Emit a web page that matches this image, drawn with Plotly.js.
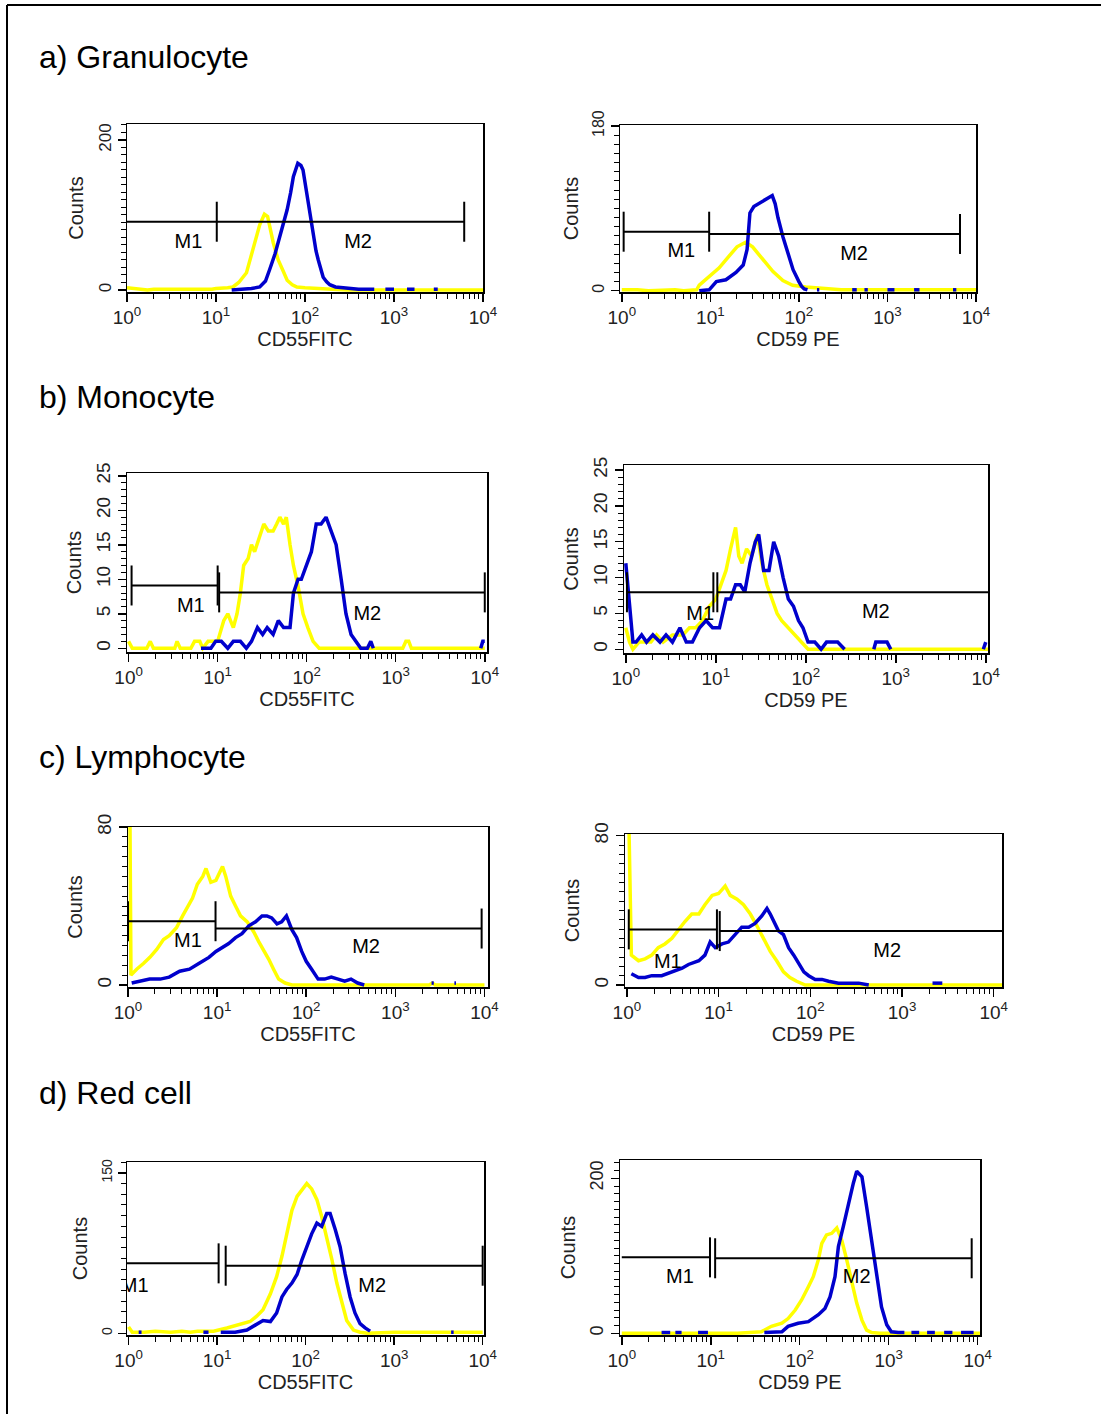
<!DOCTYPE html>
<html><head><meta charset="utf-8">
<script src="https://cdn.plot.ly/plotly-3.0.1.min.js"></script>
<style>html,body{margin:0;padding:0;background:#fff;} #chart{width:1101px;height:1414px;}</style>
</head><body><div id="chart"></div>
<script>
// ---------------- DATA ----------------
const sectionTitles = ['a) Granulocyte', 'b) Monocyte', 'c) Lymphocyte', 'd) Red cell'];
const xTitles = ['CD55FITC', 'CD59 PE'];
const yTitle = 'Counts';
const decadeTicks = [1, 10, 100, 1000, 10000];
const decadeLabels = ['10<sup>0</sup>', '10<sup>1</sup>', '10<sup>2</sup>', '10<sup>3</sup>', '10<sup>4</sup>'];
const gateLabels = ['M1', 'M2'];

// a) Granulocyte CD55
const gran55_yellow_x = [1,1.3,1.7,2,3,4,5,6,7,8,9,10,12,13.5,15.5,18,22,26,31,35,38,44,50,57,63,72,81,100,130,160,200,300,10000];
const gran55_yellow_y = [3,1,0,1,1,0,1,1,0,1,1,2,2,3,4,10,23,53,87,101,98,63,40,25,13,7,4,3,2,1,1,0,0];
const gran55_blue_x = [15,20,25,31,36,40,46,52,58,63,69,74,83,90,95,101,108,116,124,133,141,150,160,175,190,220,270,330,400,600,700,800,1000,1200,1400,1700,2000,2800,3100];
const gran55_blue_y = [0,1,2,4,12,27,48,71,90,107,130,151,169,166,160,140,116,90,71,52,40,28,17,11,7,4,3,2,1,1,null,1,1,null,1,1,null,1,1];
const gran55_yTicks = [0, 200];
const gran55_gateStart = [1, 10.2], gran55_gateEnd = [10.2, 6150], gran55_gateLevel = [91, 91];
const gran55_labelX = [4.9, 395], gran55_labelY = [62, 62];

// a) Granulocyte CD59
const gran59_yellow_x = [1,1.5,2,3,4,5,6,7,7.5,9.7,12.6,16,20,25,30,35,40,51,66,85,120,200,300,10000];
const gran59_yellow_y = [1,1,0,1,1,0,1,1,6,15,25,37,48,53,48,40,33,21,11,6,4,2,1,1];
const gran59_blue_x = [7.5,9.7,11.7,15,19.5,23.5,26,28,31,36,40,46,50,54,58,66,76,86,100,107,115,125,150,160,170,200,400,450,500,550,600,700,1000,1200,1500,2000,2300,3000,5500,6000];
const gran59_blue_y = [0,1,10,12,20,28,45,85,92,96,99,102,104,95,80,59,41,23,10,5,2,1,null,1,1,null,1,1,null,1,1,null,1,1,null,1,1,null,1,1];
const gran59_yTicks = [0, 180];
const gran59_gateStart = [1.05, 9.7], gran59_gateEnd = [9.7, 6600], gran59_gateLevel = [64.5, 62];
const gran59_labelX = [4.7, 420], gran59_labelY = [42.6, 39];

// b) Monocyte CD55
const mono55_yellow_x = [1,1.1,1.6,1.75,1.9,3.3,3.5,3.8,5,5.5,6.3,6.8,7.8,9,10,11.7,13,15,16.5,18,19.6,22,24,26,29,33,37,42,46,50,55,59,65,71,80,91,103,118,138,150,1200,1300,1400,1500,10000];
const mono55_yellow_y = [1,0,0,1,0,0,1,0,0,1,1,0,1,1,1,4,5,3,5,8,12,13,15,14,16,18,17,17,18,19,18,19,15,12,9,5,3,1,0,0,0,1,1,0,0];
const mono55_blue_x = [6.5,8.4,9.5,11,13,15,18,21,24,28,32,36,42,48,55,65,71,80,87,99,113,128,145,165,188,214,244,276,315,355,405,480,525,560,600,9000,9500,10000];
const mono55_blue_y = [0,0,1,1,0,1,1,0,1,3,2,3,2,4,3,3,8,10,10,12,14,18,18,19,17,15,10,5,2,1,0,0,1,0,null,0,1,1];
const mono55_yTicks = [0, 5, 10, 15, 20, 25];
const mono55_gateStart = [1.08, 10.4], mono55_gateEnd = [10, 10000], mono55_gateLevel = [9.1, 8.1];
const mono55_labelX = [5, 480], mono55_labelY = [6, 4.8];

// b) Monocyte CD59
const mono59_yellow_x = [1,1.1,1.2,1.4,1.6,1.9,2.2,2.6,3.3,4.3,5.1,6,7.1,8.5,10,11.3,13,14.6,16.6,18,19.6,22,25,29,32.5,37,42,48,54,64,76,89,106,10600];
const mono59_yellow_y = [3,1,0,1,1,1,2,1,2,2,3,3,4,6,7,9,11,14,17,13,12,14,13,16,12,9,7,5,4,3,2,1,0,0];
const mono59_blue_x = [1,1.1,1.2,1.3,1.5,1.7,2,2.4,2.8,3.3,4,4.7,5.5,6.6,7.8,9.2,11,13,14.6,16.6,18.7,21,24,27.5,30,34,39,44,50,56,64,73,83,93,106,126,148,170,190,226,270,300,570,600,800,880,900,9400,10000];
const mono59_blue_y = [12,6,1,1,2,1,2,1,2,1,3,1,1,3,4,3,3,7,7,9,9,8,12,15,16,11,11,15,13,10,7,6,4,3,1,1,0,1,1,1,0,null,0,1,1,0,null,0,1];
const mono59_yTicks = [0, 5, 10, 15, 20, 25];
const mono59_gateStart = [1.03, 10.4], mono59_gateEnd = [9.4, 12000], mono59_gateLevel = [7.95, 7.95];
const mono59_labelX = [6.7, 600], mono59_labelY = [4.8, 5];

// c) Lymphocyte CD55
const lymph55_yellow_x = [1,1.05,1.08,1.25,1.5,1.76,2.1,2.5,2.9,3.5,4.1,4.7,5.3,6,6.9,7.5,8.5,9.7,11.5,12.5,14.2,16.1,18.3,21.8,25.7,29.3,33,38,43,49,58,69,2400,2600,2800,10000];
const lymph55_yellow_y = [90,90,5,8,11,14,18,23,25,29,35,40,44,51,55,59,52,53,60,55,45,40,35,32,27,22,18,13,8,3,1,0,0,1,0,0];
const lymph55_blue_x = [1.1,1.35,1.75,2.3,2.9,3.8,4.9,6.3,8.1,9.7,11.5,13.5,16.1,19,22.7,27,31.9,36.2,41,47,53,60,69,78,89,100,115,136,161,191,228,270,318,378,448,500,2500,2550,2700,2800,4600,4800];
const lymph55_blue_y = [1,2,3,3,4,7,8,11,14,17,19,21,24,26,30,32,35,35,34,31,32,35,28,24,17,12,8,3,3,4,3,2,3,1,0,null,null,1,1,null,1,1];
const lymph55_yTicks = [0, 80];
const lymph55_gateStart = [1, 9.6], lymph55_gateEnd = [9.6, 9300], lymph55_gateLevel = [32.3, 28.6];
const lymph55_labelX = [4.7, 470], lymph55_labelY = [21.9, 18.5];

// c) Lymphocyte CD59
const lymph59_yellow_x = [1,1.05,1.12,1.34,1.58,1.87,2.2,2.6,3.1,3.7,4.3,5.1,6.1,7.1,8.5,10,11.8,13.4,15.9,18.7,22.2,26,31,36.6,43,51,60,71,88,12300];
const lymph59_yellow_y = [90,90,16,13,14,16,20,22,25,30,34,38,38,43,48,49,53,48,46,43,38,32,25,18,13,7,4,2,0,0];
const lymph59_blue_x = [1.12,1.34,1.58,1.87,2.4,3.1,4,4.7,6.1,7.1,8.1,9.2,10.9,12.8,15.2,17.9,21.3,25,29.6,33.7,36.6,39.8,44.9,51,58,66,74,85,96,113,134,158,203,262,337,434,500,2000,2150,2750,2800];
const lymph59_blue_y = [6,4,4,5,5,7,9,11,13,16,23,20,22,23,27,31,31,33,37,41,38,34,29,27,20,16,12,7,5,3,3,2,1,1,1,0,null,null,1,1,null];
const lymph59_yTicks = [0, 80];
const lymph59_gateStart = [1.05, 10.3], lymph59_gateEnd = [9.6, 12300], lymph59_gateLevel = [29.8, 28.9];
const lymph59_labelX = [2.8, 690], lymph59_labelY = [11.6, 17.9];

// d) Red cell CD55
const red55_yellow_x = [1,1.1,1.5,2,3,4,5,6,7,9.1,12.9,18.2,23.6,28,33,40,47,54,61,70,80,91,103,117,134,152,173,198,225,256,291,347,412,500,1000,2000,3000,5000,10000];
const red55_yellow_y = [6,1,1,2,1,2,1,2,2,2,5,8,11,16,22,37,53,72,93,115,128,134,140,135,125,109,90,69,47,28,12,3,1,0,1,1,1,1,1];
const red55_blue_x = [1.3,1.4,1.5,7,8,8.5,11,16,21.7,28,33,40,47,54,61,70,80,91,103,117,134,152,173,189,216,245,279,318,361,412,470,535,560,4300,4400,4700];
const red55_blue_y = [1,1,null,1,1,null,1,1,3,8,12,11,19,34,41,47,55,69,81,93,103,100,112,112,97,81,56,34,19,9,5,2,null,null,1,1];
const red55_yTicks = [0, 150];
const red55_gateStart = [0.9, 12.5], red55_gateEnd = [10.4, 10000], red55_gateLevel = [65.4, 63.2];
const red55_labelX = [1.17, 565], red55_labelY = [43.6, 43.6];

// d) Red cell CD59
const red59_yellow_x = [1,2,5,10,20,37,48,63,74,89,105,125,142,162,177,200,229,261,297,337,383,437,500,565,645,800,10600];
const red59_yellow_y = [0,0,0,0,0,2,9,13,19,30,43,60,73,95,116,127,129,136,120,95,65,39,17,4,1,0,0];
const red59_blue_x = [2.8,3.5,3.7,4,4.7,5,7.2,9.3,9.5,40,48,63,74,96,125,162,192,219,249,272,309,352,401,437,500,565,645,735,830,950,1070,1280,1500,1600,1800,2200,2400,2700,3300,3500,4200,5200,5500,6500,9000];
const red59_blue_y = [1,1,null,1,1,null,1,1,null,1,1,2,9,13,15,24,32,47,73,112,138,168,194,209,202,163,116,73,34,11,2,1,1,null,1,1,null,1,1,null,1,1,null,1,1];
const red59_yTicks = [0, 200];
const red59_gateStart = [1, 11.2], red59_gateEnd = [9.8, 8560], red59_gateLevel = [98, 96.8];
const red59_labelX = [4.5, 437], red59_labelY = [71, 71];

// ---------------- LAYOUT / STYLE ----------------
const W = 1101, H = 1414;
const FONT = '"Liberation Sans", Arial, Helvetica, sans-serif';
const YELLOW = '#ffff00', BLUE = '#0000cc';

const panels = [
  {yx: gran55_yellow_x, yy: gran55_yellow_y, bx: gran55_blue_x, by: gran55_blue_y, yt: gran55_yTicks,
   gs: gran55_gateStart, ge: gran55_gateEnd, gl: gran55_gateLevel, lx: gran55_labelX, ly: gran55_labelY,
   bars: [[0,1],[0,1]], box: [127,483,124,292], xr: [0,4], yr: [-2.7,221.3], yMinor: 10, yFont: 17, xt: 0},
  {yx: gran59_yellow_x, yy: gran59_yellow_y, bx: gran59_blue_x, by: gran59_blue_y, yt: gran59_yTicks,
   gs: gran59_gateStart, ge: gran59_gateEnd, gl: gran59_gateLevel, lx: gran59_labelX, ly: gran59_labelY,
   bars: [[1,1],[0,1]], box: [620,976,125,292], xr: [-0.02,4.0], yr: [-1.4,181.1], yMinor: 10, yFont: 16, xt: 1},
  {yx: mono55_yellow_x, yy: mono55_yellow_y, bx: mono55_blue_x, by: mono55_blue_y, yt: mono55_yTicks,
   gs: mono55_gateStart, ge: mono55_gateEnd, gl: mono55_gateLevel, lx: mono55_labelX, ly: mono55_labelY,
   bars: [[1,1],[1,1]], box: [127,487,473,652], xr: [-0.018,4.025], yr: [-0.54,25.4], yMinor: 1, yFont: 19, xt: 0},
  {yx: mono59_yellow_x, yy: mono59_yellow_y, bx: mono59_blue_x, by: mono59_blue_y, yt: mono59_yTicks,
   gs: mono59_gateStart, ge: mono59_gateEnd, gl: mono59_gateLevel, lx: mono59_labelX, ly: mono59_labelY,
   bars: [[1,1],[1,0]], box: [624,988,465,653], xr: [-0.02,4.025], yr: [-0.52,25.7], yMinor: 1, yFont: 19, xt: 1},
  {yx: lymph55_yellow_x, yy: lymph55_yellow_y, bx: lymph55_blue_x, by: lymph55_blue_y, yt: lymph55_yTicks,
   gs: lymph55_gateStart, ge: lymph55_gateEnd, gl: lymph55_gateLevel, lx: lymph55_labelX, ly: lymph55_labelY,
   bars: [[1,1],[0,1]], box: [128,488,827,987], xr: [0,4.04], yr: [-1,80], yMinor: 5, yFont: 19, xt: 0},
  {yx: lymph59_yellow_x, yy: lymph59_yellow_y, bx: lymph59_blue_x, by: lymph59_blue_y, yt: lymph59_yTicks,
   gs: lymph59_gateStart, ge: lymph59_gateEnd, gl: lymph59_gateLevel, lx: lymph59_labelX, ly: lymph59_labelY,
   bars: [[1,1],[1,0]], box: [625,1002,834,987], xr: [-0.02,4.09], yr: [-1.07,80.9], yMinor: 5, yFont: 19, xt: 1},
  {yx: red55_yellow_x, yy: red55_yellow_y, bx: red55_blue_x, by: red55_blue_y, yt: red55_yTicks,
   gs: red55_gateStart, ge: red55_gateEnd, gl: red55_gateLevel, lx: red55_labelX, ly: red55_labelY,
   bars: [[0,1],[1,1]], box: [127,484,1162,1335], xr: [-0.018,4.015], yr: [-1.6,160.2], yMinor: 10, yFont: 14, xt: 0},
  {yx: red59_yellow_x, yy: red59_yellow_y, bx: red59_blue_x, by: red59_blue_y, yt: red59_yTicks,
   gs: red59_gateStart, ge: red59_gateEnd, gl: red59_gateLevel, lx: red59_labelX, ly: red59_labelY,
   bars: [[0,1],[1,1]], box: [620,980,1160,1335], xr: [-0.02,4.026], yr: [-2.2,223.6], yMinor: 10, yFont: 18, xt: 1}
];

// minor log ticks (2..9 per decade)
const minorX = [];
for (let k = 0; k < 4; k++) for (let d = 2; d <= 9; d++) minorX.push(d * Math.pow(10, k));

const data = [];
const layout = {
  width: W, height: H, margin: {l: 0, r: 0, t: 0, b: 0},
  paper_bgcolor: '#fff', plot_bgcolor: '#fff', showlegend: false,
  font: {family: FONT, color: '#222'},
  annotations: [], shapes: []
};

panels.forEach((p, i) => {
  const n = i + 1, sfx = n > 1 ? String(n) : '';
  const xref = 'x' + sfx, yref = 'y' + sfx;
  const [L, R, T, B] = p.box;
  layout['xaxis' + sfx] = {
    type: 'log', domain: [L / W, R / W], range: p.xr, anchor: yref,
    tickmode: 'array', tickvals: decadeTicks, ticktext: decadeLabels,
    ticks: 'outside', ticklen: 8, tickwidth: 1.5, tickcolor: '#000',
    minor: {tickmode: 'array', tickvals: minorX, ticks: 'outside', ticklen: 5, tickwidth: 1, tickcolor: '#000', showgrid: false},
    showline: true, mirror: true, linecolor: '#000', linewidth: 1.5,
    showgrid: false, zeroline: false, fixedrange: true,
    tickfont: {family: FONT, size: 19, color: '#222'},
    title: {text: xTitles[p.xt], font: {family: FONT, size: 20, color: '#222'}, standoff: 2}
  };
  layout['yaxis' + sfx] = {
    domain: [1 - B / H, 1 - T / H], range: p.yr, anchor: xref,
    tickmode: 'array', tickvals: p.yt, ticktext: p.yt.map(String), tickangle: -90,
    ticks: 'outside', ticklen: 8, tickwidth: 1.5, tickcolor: '#000',
    minor: {tickmode: 'linear', tick0: 0, dtick: p.yMinor, ticks: 'outside', ticklen: 5, tickwidth: 1, tickcolor: '#000', showgrid: false},
    showline: true, mirror: true, linecolor: '#000', linewidth: 1.5,
    showgrid: false, zeroline: false, fixedrange: true,
    tickfont: {family: FONT, size: p.yFont, color: '#222'},
    title: {text: yTitle, font: {family: FONT, size: 20, color: '#222'}, standoff: 6}
  };
  const common = {xaxis: xref, yaxis: yref, hoverinfo: 'skip', showlegend: false};
  data.push(Object.assign({type: 'scatter', mode: 'lines', x: p.yx, y: p.yy, line: {color: YELLOW, width: 3.5}}, common));
  data.push(Object.assign({type: 'scatter', mode: 'lines', x: p.bx, y: p.by, line: {color: BLUE, width: 3.5}, connectgaps: false}, common));

  // gates (M1, M2): horizontal marker line plus end bars (bar height ~20px each side)
  const half = 20 * (p.yr[1] - p.yr[0]) / (B - T);
  const gx = [], gy = [];
  for (let g = 0; g < 2; g++) {
    gx.push(p.gs[g], p.ge[g], null); gy.push(p.gl[g], p.gl[g], null);
    if (p.bars[g][0]) { gx.push(p.gs[g], p.gs[g], null); gy.push(p.gl[g] - half, p.gl[g] + half, null); }
    if (p.bars[g][1]) { gx.push(p.ge[g], p.ge[g], null); gy.push(p.gl[g] - half, p.gl[g] + half, null); }
  }
  data.push(Object.assign({type: 'scatter', mode: 'lines', x: gx, y: gy, line: {color: '#000', width: 2}}, common));
  data.push(Object.assign({type: 'scatter', mode: 'text', x: p.lx, y: p.ly, text: gateLabels,
    textposition: 'middle center', cliponaxis: true, textfont: {family: FONT, size: 20, color: '#000'}}, common));
});

const titleY = [57, 397, 757, 1093];
sectionTitles.forEach((t, i) => {
  layout.annotations.push({text: t, xref: 'paper', yref: 'paper', x: 37 / W, y: 1 - titleY[i] / H,
    xanchor: 'left', yanchor: 'middle', showarrow: false, font: {family: FONT, size: 32, color: '#000'}});
});

// outer frame (top and left edges visible)
layout.shapes.push({type: 'line', xref: 'paper', yref: 'paper', x0: 7 / W, x1: 1, y0: 1 - 5 / H, y1: 1 - 5 / H, line: {color: '#000', width: 2}});
layout.shapes.push({type: 'line', xref: 'paper', yref: 'paper', x0: 7 / W, x1: 7 / W, y0: 1 - 5 / H, y1: 0, line: {color: '#000', width: 2}});

Plotly.newPlot('chart', data, layout, {staticPlot: true, displayModeBar: false});
</script>
</body></html>
